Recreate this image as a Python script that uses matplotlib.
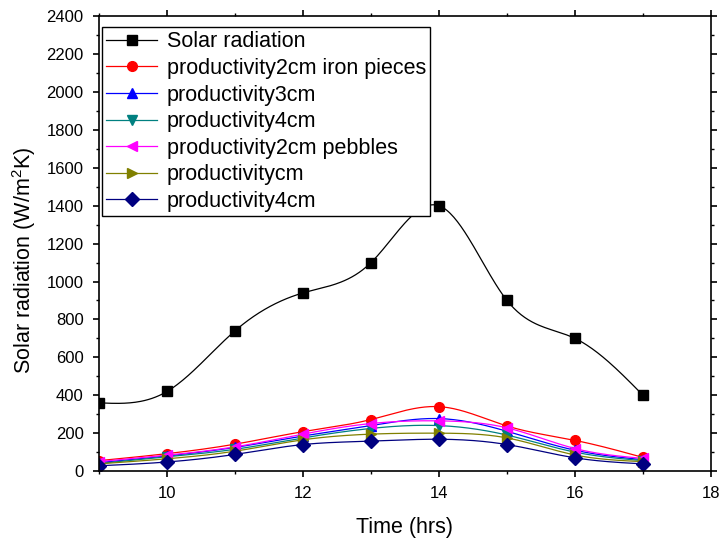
import numpy as np
import matplotlib
matplotlib.use("Agg")
import matplotlib.pyplot as plt
from matplotlib.ticker import MultipleLocator

plt.rcParams['font.family'] = ['Liberation Sans', 'DejaVu Sans']
plt.rcParams['mathtext.fontset'] = 'custom'
plt.rcParams['mathtext.rm'] = 'Liberation Sans'

hours = [9, 10, 11, 12, 13, 14, 15, 16, 17]
solar = [360, 420, 740, 940, 1100, 1400, 900, 700, 400]
iron_2cm = [55, 92, 142, 208, 272, 340, 238, 162, 72]
prod_3cm = [45, 80, 125, 185, 240, 277, 210, 110, 60]
prod_4cm = [40, 75, 115, 175, 225, 240, 190, 100, 55]
pebbles_2cm = [50, 84, 128, 195, 251, 265, 228, 119, 67]
prod_cm = [38, 65, 105, 165, 195, 200, 175, 85, 50]
prod_4cm_b = [28, 48, 88, 140, 158, 168, 140, 70, 38]

series = [
    ("Solar radiation", solar, "black", "s"),
    ("productivity2cm iron pieces", iron_2cm, "red", "o"),
    ("productivity3cm", prod_3cm, "blue", "^"),
    ("productivity4cm", prod_4cm, "#008080", "v"),
    ("productivity2cm pebbles", pebbles_2cm, "magenta", "<"),
    ("productivitycm", prod_cm, "#808000", ">"),
    ("productivity4cm", prod_4cm_b, "#000080", "D"),
]


def natural_spline(x, y, n=300):
    # natural cubic spline, just for drawing the smooth connecting line
    x = np.asarray(x, float)
    y = np.asarray(y, float)
    k = len(x)
    h = np.diff(x)
    A = np.zeros((k, k))
    b = np.zeros(k)
    A[0, 0] = A[-1, -1] = 1
    for i in range(1, k - 1):
        A[i, i - 1] = h[i - 1]
        A[i, i] = 2 * (h[i - 1] + h[i])
        A[i, i + 1] = h[i]
        b[i] = 6 * ((y[i + 1] - y[i]) / h[i] - (y[i] - y[i - 1]) / h[i - 1])
    M = np.linalg.solve(A, b)
    xs = np.linspace(x[0], x[-1], n)
    idx = np.clip(np.searchsorted(x, xs) - 1, 0, k - 2)
    x0, x1 = x[idx], x[idx + 1]
    hh = x1 - x0
    t0, t1 = x1 - xs, xs - x0
    ys = (M[idx] * t0 ** 3 + M[idx + 1] * t1 ** 3) / (6 * hh) \
        + (y[idx] / hh - M[idx] * hh / 6) * t0 \
        + (y[idx + 1] / hh - M[idx + 1] * hh / 6) * t1
    return xs, ys


fig = plt.figure(figsize=(7.2, 5.39), dpi=100)
ax = fig.add_axes([0.1375, 0.126, 0.85, 0.844])

for label, vals, color, marker in series:
    xs, ys = natural_spline(hours, vals)
    ax.plot(xs, ys, color=color, lw=0.9)
    ax.plot(hours, vals, linestyle='none', marker=marker, color=color, markersize=7)
    ax.plot([], [], color=color, lw=0.9, marker=marker, markersize=7, label=label)

ax.set_xlim(9, 18)
ax.set_ylim(0, 2400)
ax.xaxis.set_major_locator(MultipleLocator(2))
ax.xaxis.set_minor_locator(MultipleLocator(1))
ax.yaxis.set_major_locator(MultipleLocator(200))
ax.yaxis.set_minor_locator(MultipleLocator(100))
ax.tick_params(which='both', direction='out', top=True, right=True, labelsize=12)
ax.tick_params(which='major', length=4.5, width=1.2, pad=6.5)
ax.tick_params(which='minor', length=2.5, width=1.0)
for sp in ax.spines.values():
    sp.set_linewidth(1.2)

ax.set_xlabel("Time (hrs)", fontsize=15.5)
ax.set_ylabel("Solar radiation (W/m$^2$K)", fontsize=15.5)
ax.xaxis.set_label_coords(0.5, -0.1)
ax.yaxis.set_label_coords(-0.1, 0.464)

leg = ax.legend(loc='upper left', bbox_to_anchor=(0.005, 0.976), borderaxespad=0,
                fontsize=15.5, fancybox=False, framealpha=1, edgecolor='black',
                handlelength=2.35, labelspacing=0.26, borderpad=0.2,
                handletextpad=0.45)
leg.get_frame().set_linewidth(1.0)

fig.savefig("out.png", dpi=100)
